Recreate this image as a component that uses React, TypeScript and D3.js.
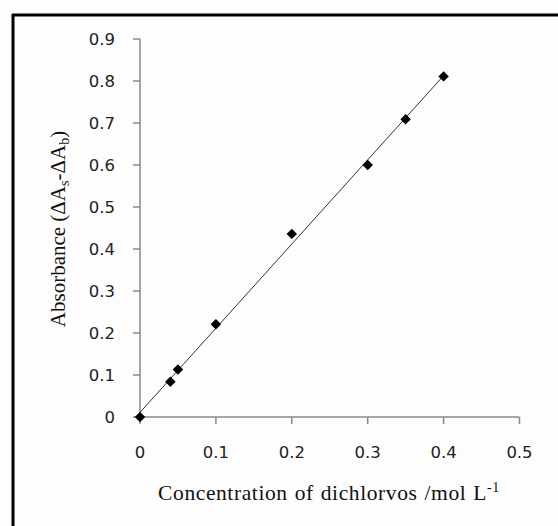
import React from "react";
import * as d3 from "d3";

const concentration = [0, 0.04, 0.05, 0.1, 0.2, 0.3, 0.35, 0.4];
const absorbance = [0, 0.084, 0.113, 0.221, 0.436, 0.6, 0.709, 0.811];
const xTicks = [0, 0.1, 0.2, 0.3, 0.4, 0.5];
const yTicks = [0, 0.1, 0.2, 0.3, 0.4, 0.5, 0.6, 0.7, 0.8, 0.9];

export default function App() {
  const W = 558, H = 526;
  const x = d3.scaleLinear().domain([0, 0.5]).range([140, 519.5]);
  const y = d3.scaleLinear().domain([0, 0.9]).range([417, 39]);

  // least squares fit
  const n = concentration.length;
  const mx = d3.mean(concentration)!;
  const my = d3.mean(absorbance)!;
  let sxy = 0, sxx = 0;
  for (let i = 0; i < n; i++) {
    sxy += (concentration[i] - mx) * (absorbance[i] - my);
    sxx += (concentration[i] - mx) ** 2;
  }
  const slope = sxy / sxx;
  const intercept = my - slope * mx;
  const x0 = 0, x1 = d3.max(concentration)!;
  const line = d3.line<[number, number]>().x(d => x(d[0])).y(d => y(d[1]));
  const fit: [number, number][] = [[x0, intercept + slope * x0], [x1, intercept + slope * x1]];

  const diamond = d3.symbol().type(d3.symbolDiamond2).size(70)();
  const tickFont = "'DejaVu Sans', Verdana, sans-serif";
  const serif = "'Liberation Serif', 'Times New Roman', serif";

  return (
    <svg width={W} height={H} style={{ position: "absolute", left: 0, top: 0, background: "#fff" }}>
      <rect x={0} y={0} width={W} height={H} fill="#fdfdfd" />
      <line x1={12} y1={15} x2={W} y2={15} stroke="#000" strokeWidth={3} />
      <line x1={13} y1={14} x2={13} y2={H} stroke="#000" strokeWidth={3} />
      {/* axes */}
      <line x1={x(0)} y1={y(0)} x2={x(0.5)} y2={y(0)} stroke="#888" strokeWidth={1.5} />
      <line x1={x(0)} y1={y(0)} x2={x(0)} y2={y(0.9)} stroke="#888" strokeWidth={1.5} />
      {yTicks.map(t => (
        <g key={"y" + t}>
          <line x1={x(0) - 7} x2={x(0)} y1={y(t)} y2={y(t)} stroke="#888" strokeWidth={1.5} />
          <text x={115} y={y(t)} dy="0.35em" textAnchor="end" fontFamily={tickFont} fontSize={16.5} fill="#222">
            {t === 0 ? "0" : t.toFixed(1)}
          </text>
        </g>
      ))}
      {xTicks.map(t => (
        <g key={"x" + t}>
          <line x1={x(t)} x2={x(t)} y1={y(0)} y2={y(0) + 7} stroke="#888" strokeWidth={1.5} />
          <text x={x(t)} y={452} dy="0.35em" textAnchor="middle" fontFamily={tickFont} fontSize={16.5} fill="#222">
            {t === 0 ? "0" : t.toFixed(1)}
          </text>
        </g>
      ))}
      <path d={line(fit)!} stroke="#333" strokeWidth={1} fill="none" />
      {concentration.map((c, i) => (
        <path key={i} d={diamond!} transform={`translate(${x(c)},${y(absorbance[i])})`} fill="#000" />
      ))}
      <text x={329} y={492} dy="0.35em" textAnchor="middle" fontFamily={serif} fontSize={21.5} fill="#111" letterSpacing={0.6} wordSpacing={1}>
        Concentration of dichlorvos /mol L<tspan dy="-8" fontSize={14}>-1</tspan>
      </text>
      <text transform={`translate(58,229) rotate(-90)`} dy="0.35em" textAnchor="middle" fontFamily={serif} fontSize={21} fill="#111">
        Absorbance (ΔA<tspan dy="4" fontSize={14}>s</tspan><tspan dy="-4">-ΔA</tspan><tspan dy="4" fontSize={14}>b</tspan><tspan dy="-4">)</tspan>
      </text>
    </svg>
  );
}
